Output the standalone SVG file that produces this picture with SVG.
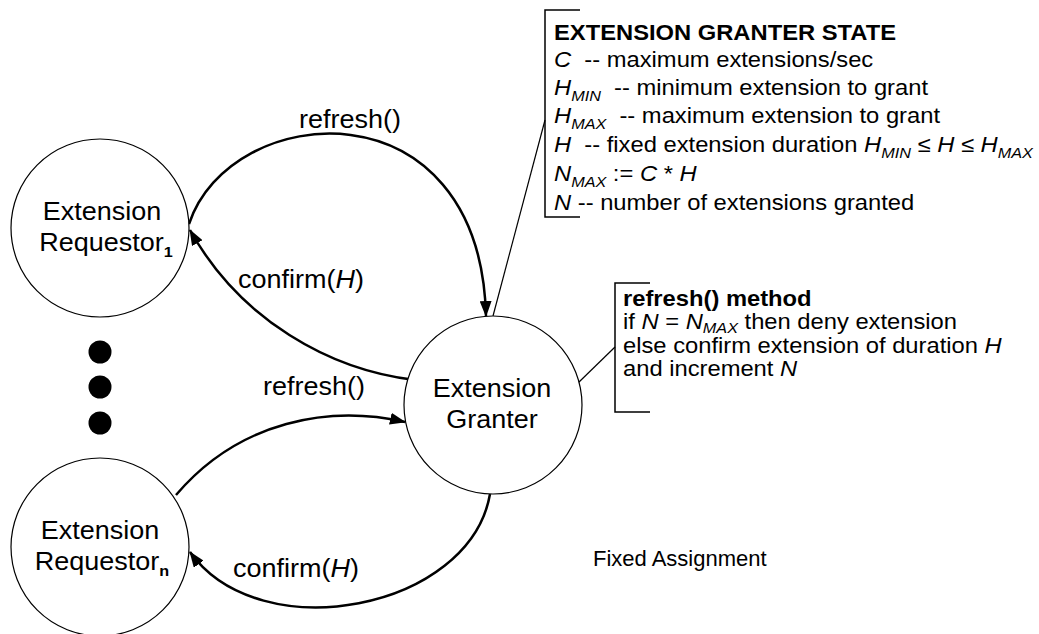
<svg xmlns="http://www.w3.org/2000/svg" width="1039" height="634" viewBox="0 0 1039 634">
<style>
text{font-family:"Liberation Sans",Arial,Helvetica,sans-serif;fill:#000}
.node{fill:#fff;stroke:#000;stroke-width:1.2}
.lbl{font-size:25px}
.box{font-size:22px}
.b{font-weight:bold}
.i{font-style:italic}
.sub{font-size:15px}
.conn{fill:none;stroke:#000;stroke-width:2.5}
.thin{fill:none;stroke:#000;stroke-width:1.2}
.brk{fill:none;stroke:#000;stroke-width:1.5}
</style>
<defs>
<marker id="ah" markerUnits="userSpaceOnUse" markerWidth="16" markerHeight="12" refX="15" refY="6" orient="auto">
<path d="M0,0 L16,6 L0,12 Z" fill="#000"/>
</marker>
</defs>
<g id="connectors">
<path class="conn" d="M189,224 C230,100 480,80 486,316" marker-end="url(#ah)"/>
<path class="conn" d="M415,380 C330,370 240,320 190,230" marker-end="url(#ah)"/>
<path class="conn" d="M176,495 C240,420 330,405 405,422" marker-end="url(#ah)"/>
<path class="conn" d="M490,494 C470,610 260,650 190,552" marker-end="url(#ah)"/>
<path class="thin" d="M493,316 L545,120"/>
<path class="thin" d="M578,383 L615,347"/>
</g>
<g id="labels">
<text class="lbl" transform="translate(350,128) scale(1.08,1)" text-anchor="middle">refresh()</text>
<text class="lbl" transform="translate(301,288) scale(1.08,1)" text-anchor="middle">confirm(<tspan class="i">H</tspan>)</text>
<text class="lbl" transform="translate(314,395) scale(1.08,1)" text-anchor="middle">refresh()</text>
<text class="lbl" transform="translate(296,577) scale(1.08,1)" text-anchor="middle">confirm(<tspan class="i">H</tspan>)</text>
</g>
<g id="requestor1">
<circle class="node" cx="100" cy="228" r="89"/>
<text class="lbl" transform="translate(102,220) scale(1.08,1)" text-anchor="middle">Extension</text>
<text class="lbl" transform="translate(106,251) scale(1.08,1)" text-anchor="middle">Requestor<tspan class="sub b" dy="6">1</tspan></text>
</g>
<g id="ellipsis">
<circle cx="100" cy="352" r="11.5"/>
<circle cx="100" cy="387" r="11.5"/>
<circle cx="100" cy="423" r="11.5"/>
</g>
<g id="requestorn">
<circle class="node" cx="100" cy="547" r="89"/>
<text class="lbl" transform="translate(100,539) scale(1.08,1)" text-anchor="middle">Extension</text>
<text class="lbl" transform="translate(102,570) scale(1.08,1)" text-anchor="middle">Requestor<tspan class="sub b" dy="6">n</tspan></text>
</g>
<g id="granter">
<circle class="node" cx="493" cy="405" r="89"/>
<text class="lbl" transform="translate(492,397) scale(1.08,1)" text-anchor="middle">Extension</text>
<text class="lbl" transform="translate(492,428) scale(1.08,1)" text-anchor="middle">Granter</text>
</g>
<g id="state-box">
<path class="brk" d="M580,10 L545,10 L545,217 L580,217"/>
<g transform="translate(554,0) scale(1.08,1)">
<text class="box b" x="0" y="40">EXTENSION GRANTER STATE</text>
<text class="box" x="0" y="67" xml:space="preserve"><tspan class="i">C</tspan>  -- maximum extensions/sec</text>
<text class="box" x="0" y="95" xml:space="preserve"><tspan class="i">H</tspan><tspan class="sub i" dy="6">MIN</tspan><tspan dy="-6">  -- minimum extension to grant</tspan></text>
<text class="box" x="0" y="123" xml:space="preserve"><tspan class="i">H</tspan><tspan class="sub i" dy="6">MAX</tspan><tspan dy="-6">  -- maximum extension to grant</tspan></text>
<text class="box" x="0" y="152" xml:space="preserve"><tspan class="i">H</tspan>  -- fixed extension duration <tspan class="i">H</tspan><tspan class="sub i" dy="6">MIN</tspan><tspan dy="-6"> ≤ </tspan><tspan class="i">H</tspan> ≤ <tspan class="i">H</tspan><tspan class="sub i" dy="6">MAX</tspan></text>
<text class="box" x="0" y="181" xml:space="preserve"><tspan class="i">N</tspan><tspan class="sub i" dy="6">MAX</tspan><tspan dy="-6"> := </tspan><tspan class="i">C</tspan> * <tspan class="i">H</tspan></text>
<text class="box" x="0" y="210" xml:space="preserve"><tspan class="i">N</tspan> -- number of extensions granted</text>
</g>
</g>
<g id="method-box">
<path class="brk" d="M650,283 L615,283 L615,412 L650,412"/>
<g transform="translate(623,0) scale(1.08,1)">
<text class="box b" x="0" y="306">refresh() method</text>
<text class="box" x="0" y="329" xml:space="preserve">if <tspan class="i">N</tspan> = <tspan class="i">N</tspan><tspan class="sub i" dy="4">MAX</tspan><tspan dy="-4"> then deny extension</tspan></text>
<text class="box" x="0" y="353" xml:space="preserve">else confirm extension of duration <tspan class="i">H</tspan></text>
<text class="box" x="0" y="376" xml:space="preserve">and increment <tspan class="i">N</tspan></text>
</g>
</g>
<g id="caption">
<text class="box" x="593" y="566">Fixed Assignment</text>
</g>
</svg>
